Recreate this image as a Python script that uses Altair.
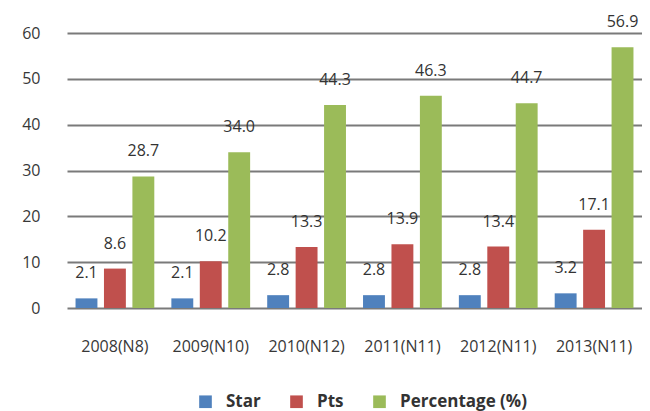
import altair as alt
import pandas as pd

years = ["2008(N8)", "2009(N10)", "2010(N12)", "2011(N11)", "2012(N11)", "2013(N11)"]
series = ["Star", "Pts", "Percentage (%)"]
star = [2.1, 2.1, 2.8, 2.8, 2.8, 3.2]
pts = [8.6, 10.2, 13.3, 13.9, 13.4, 17.1]
pct = [28.7, 34.0, 44.3, 46.3, 44.7, 56.9]
colors = ["#4f81bd", "#c0504d", "#9bbb59"]

rows = []
for i, y in enumerate(years):
    for s, vals in zip(series, [star, pts, pct]):
        rows.append({"year": y, "series": s, "value": vals[i]})
df = pd.DataFrame(rows)

FONT = "Open Sans"

x = alt.X("year:N", sort=years, title=None,
          scale=alt.Scale(paddingInner=0, paddingOuter=0),
          axis=alt.Axis(labelAngle=0, domain=False, ticks=False, labelPadding=30,
                        labelFontSize=16, labelColor="#383838", labelFont=FONT))
xo = alt.XOffset("series:N", sort=series,
                 scale=alt.Scale(paddingInner=0.23, paddingOuter=0.3))
y = alt.Y("value:Q", title=None,
          scale=alt.Scale(domain=[0, 60], nice=False),
          axis=alt.Axis(values=[0, 10, 20, 30, 40, 50, 60], domain=False, ticks=False,
                        labelPadding=27, labelFontSize=16, labelColor="#383838",
                        labelFont=FONT, gridColor="#7a7a7a", gridWidth=1.8))

bars = alt.Chart(df).mark_bar().encode(
    x=x, xOffset=xo, y=y,
    color=alt.Color("series:N", sort=series, title=None,
                    scale=alt.Scale(domain=series, range=colors),
                    legend=alt.Legend(orient="none", direction="horizontal",
                                      legendX=130, legendY=360, padding=0,
                                      symbolType="square", symbolSize=160,
                                      symbolStrokeWidth=0, labelOffset=12,
                                      columnPadding=27, labelFontSize=17,
                                      labelFontWeight="bold", labelColor="#333333",
                                      labelFont=FONT)),
)

labels = alt.Chart(df).mark_text(baseline="middle", dy=-25, fontSize=16,
                                 color="#333333", font=FONT).encode(
    x=x, xOffset=xo, y=y,
    text=alt.Text("value:Q", format=".1f"),
)

chart = alt.layer(bars, labels).properties(
    width=575, height=275,
    autosize=alt.AutoSizeParams(type="none"),
    padding={"left": 59, "top": 25, "right": 0, "bottom": 103},
).configure_view(stroke=None)

chart.save("out.html", embed_options={"renderer": "svg", "actions": False})
